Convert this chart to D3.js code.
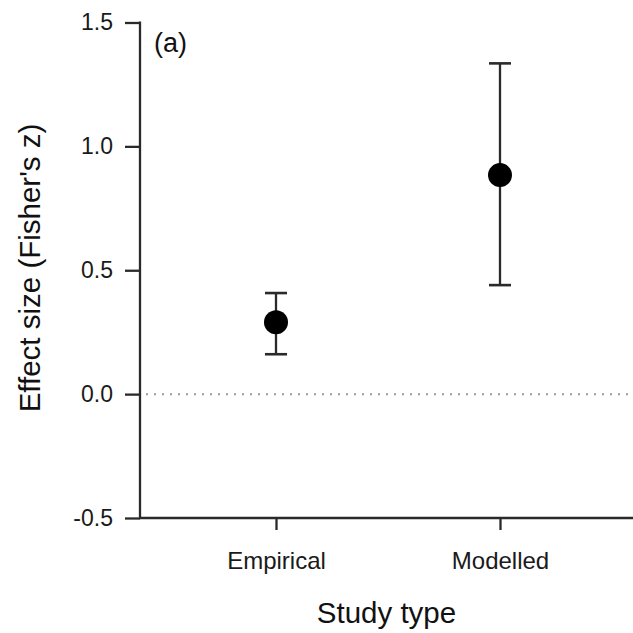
<!DOCTYPE html>
<html>
<head>
<meta charset="utf-8">
<script src="https://cdn.jsdelivr.net/npm/d3@7"></script>
<style>
  html, body { margin: 0; padding: 0; background: #fff; }
  svg { display: block; font-family: "Liberation Sans", Arial, Helvetica, sans-serif; }
</style>
</head>
<body>
<svg id="chart" width="633" height="633"></svg>
<script>
// ---- data ----
const categories = ["Empirical", "Modelled"];
const means = [0.29, 0.884];
const lowerCI = [0.161, 0.44];
const upperCI = [0.408, 1.335];
const yTicks = [-0.5, 0.0, 0.5, 1.0, 1.5];
const panelLabel = "(a)";
const xTitle = "Study type";
const yTitle = "Effect size (Fisher's z)";

(function () {
  // ---- layout ----
  const svg = d3.select("#chart");
  const W = 633, H = 633;
  const pLeft = 140, pRight = 633, pTop = 22.5, pBottom = 518;

  const y = d3.scaleLinear().domain([-0.5, 1.5]).range([pBottom, pTop]);
  const x = d3.scalePoint().domain(categories).range([276, 500]).padding(0);

  svg.append("rect").attr("width", W).attr("height", H).attr("fill", "#fff");

  const axisColor = "#2a2a2a";
  const lw = 2.3;

  // y axis
  const gy = svg.append("g").attr("transform", `translate(${pLeft},0)`)
    .call(d3.axisLeft(y).tickValues(yTicks).tickFormat(d => d.toFixed(1)).tickSize(15).tickPadding(12));
  gy.select(".domain").remove();
  gy.selectAll(".tick line").attr("stroke", axisColor).attr("stroke-width", lw);
  gy.selectAll(".tick text").attr("font-size", 23).attr("fill", "#1a1a1a")
    .attr("font-family", "'Liberation Sans', Arial, sans-serif");
  svg.append("line").attr("x1", pLeft).attr("x2", pLeft).attr("y1", y(1.5) - 1).attr("y2", pBottom)
    .attr("stroke", axisColor).attr("stroke-width", lw);

  // x axis
  const gx = svg.append("g").attr("transform", `translate(0,${pBottom})`)
    .call(d3.axisBottom(x).tickSize(12).tickPadding(22));
  gx.select(".domain").remove();
  gx.selectAll(".tick line").attr("stroke", axisColor).attr("stroke-width", lw);
  gx.selectAll(".tick text").attr("font-size", 24).attr("fill", "#1a1a1a")
    .attr("font-family", "'Liberation Sans', Arial, sans-serif");
  svg.append("line").attr("x1", pLeft - 1).attr("x2", pRight).attr("y1", pBottom).attr("y2", pBottom)
    .attr("stroke", axisColor).attr("stroke-width", lw);

  // zero reference line
  svg.append("line").attr("x1", pLeft + 6).attr("x2", pRight).attr("y1", y(0)).attr("y2", y(0))
    .attr("stroke", "#999").attr("stroke-width", 2).attr("stroke-dasharray", "2,6");

  // error bars
  const rows = categories.map((c, i) => ({ c, m: means[i], lo: lowerCI[i], hi: upperCI[i] }));
  const capW = 11;
  const eb = svg.append("g").selectAll("g").data(rows).join("g");
  eb.append("line").attr("x1", d => x(d.c)).attr("x2", d => x(d.c))
    .attr("y1", d => y(d.lo)).attr("y2", d => y(d.hi))
    .attr("stroke", axisColor).attr("stroke-width", lw);
  eb.append("line").attr("x1", d => x(d.c) - capW).attr("x2", d => x(d.c) + capW)
    .attr("y1", d => y(d.hi)).attr("y2", d => y(d.hi))
    .attr("stroke", axisColor).attr("stroke-width", 2.6);
  eb.append("line").attr("x1", d => x(d.c) - capW).attr("x2", d => x(d.c) + capW)
    .attr("y1", d => y(d.lo)).attr("y2", d => y(d.lo))
    .attr("stroke", axisColor).attr("stroke-width", 2.6);
  eb.append("circle").attr("cx", d => x(d.c)).attr("cy", d => y(d.m)).attr("r", 12)
    .attr("fill", "#000");

  // titles
  svg.append("text").attr("x", (pLeft + pRight) / 2).attr("y", 623)
    .attr("text-anchor", "middle").attr("font-size", 29.5).attr("fill", "#111").text(xTitle);
  svg.append("text").attr("transform", `translate(40,268) rotate(-90)`)
    .attr("text-anchor", "middle").attr("font-size", 29.5).attr("fill", "#111").text(yTitle);

  // panel label
  svg.append("text").attr("x", 154).attr("y", 52).attr("font-size", 27).attr("fill", "#111").text(panelLabel);
})();
</script>
</body>
</html>
